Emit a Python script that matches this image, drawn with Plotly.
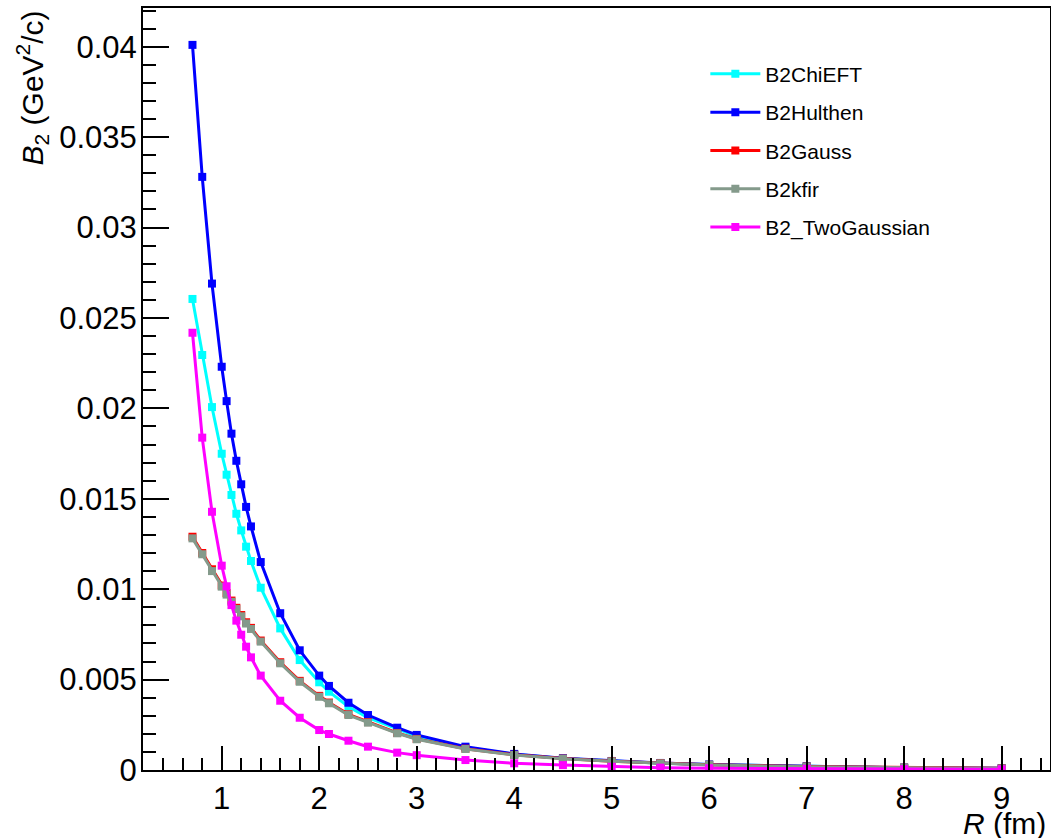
import plotly.graph_objects as go

# ---- data ----
R = [0.7, 0.8, 0.9, 1.0, 1.05, 1.1, 1.15, 1.2, 1.25, 1.3, 1.4, 1.6, 1.8, 2.0, 2.1,
     2.3, 2.5, 2.8, 3.0, 3.5, 4.0, 4.5, 5.0, 5.5, 6.0, 7.0, 8.0, 9.0]

B2ChiEFT = [0.02605, 0.02295, 0.02007, 0.01749, 0.01633, 0.01521, 0.01417, 0.01325,
            0.01235, 0.01156, 0.01008, 0.00783, 0.00608, 0.00485, 0.00433, 0.00350,
            0.00290, 0.00225, 0.00186, 0.00125, 0.00087, 0.00064, 0.00049, 0.00038,
            0.00030, 0.00020, 0.00013, 0.00009]

B2Hulthen = [0.0401, 0.0328, 0.0269, 0.0223, 0.0204, 0.0186, 0.0171, 0.0158,
             0.01455, 0.01347, 0.0115, 0.00867, 0.00662, 0.00522, 0.00465, 0.00372,
             0.00304, 0.00234, 0.00194, 0.00129, 0.00089, 0.00065, 0.00050, 0.00039,
             0.00030, 0.00020, 0.00013, 0.00009]

B2Gauss = [0.0129, 0.0120, 0.0111, 0.0102, 0.00978, 0.00937, 0.00897, 0.00857,
           0.00817, 0.00786, 0.00716, 0.00596, 0.00493, 0.00410, 0.00373, 0.00308,
           0.00265, 0.00205, 0.00172, 0.00118, 0.00084, 0.00063, 0.00049, 0.00038,
           0.00029, 0.00019, 0.00013, 0.00009]

B2kfir = [0.01281, 0.01193, 0.01100, 0.01014, 0.00970, 0.00930, 0.00890, 0.00850,
          0.00810, 0.00780, 0.00710, 0.00590, 0.00488, 0.00405, 0.00369, 0.00304,
          0.00262, 0.00203, 0.00170, 0.00116, 0.00083, 0.00062, 0.00048, 0.00037,
          0.00028, 0.00018, 0.00012, 0.00008]

B2_TwoGaussian = [0.02418, 0.01838, 0.01428, 0.0113, 0.01016, 0.00912, 0.00826, 0.00748,
                  0.00682, 0.00623, 0.00522, 0.00383, 0.00289, 0.00221, 0.00199, 0.00162,
                  0.00129, 0.00096, 0.00082, 0.00055, 0.00037, 0.00027, 0.00018, 0.00013,
                  0.00010, 0.00007, 0.00005, 0.00004]

series_names = ["B2ChiEFT", "B2Hulthen", "B2Gauss", "B2kfir", "B2_TwoGaussian"]
series_values = [B2ChiEFT, B2Hulthen, B2Gauss, B2kfir, B2_TwoGaussian]
series_colors = ["#00FFFF", "#0000FF", "#FF0000", "#849a8b", "#FF00FF"]

x_tickvals = [1, 2, 3, 4, 5, 6, 7, 8, 9]
x_ticktext = ["1", "2", "3", "4", "5", "6", "7", "8", "9"]
y_tickvals = [0, 0.005, 0.01, 0.015, 0.02, 0.025, 0.03, 0.035, 0.04]
y_ticktext = ["0", "0.005", "0.01", "0.015", "0.02", "0.025", "0.03", "0.035", "0.04"]

FONT = "Liberation Sans, Arial, Helvetica, sans-serif"

fig = go.Figure()
for i, (name, vals, col) in enumerate(zip(series_names, series_values, series_colors)):
    fig.add_trace(go.Scatter(
        x=R, y=vals, name=name, mode="lines+markers",
        line=dict(color=col, width=3),
        marker=dict(symbol="square", size=8, color=col, line=dict(width=0)),
        legendgroup=name,
    ))

axis_common = dict(
    showline=True, linecolor="black", linewidth=2, mirror=True,
    ticks="inside", tickcolor="black", tickwidth=1.5,
    showgrid=False, zeroline=False, automargin=False,
    tickfont=dict(family=FONT, size=31, color="black"),
)

fig.update_xaxes(
    range=[0.1925, 9.496], tickmode="array", tickvals=x_tickvals, ticktext=x_ticktext,
    ticklen=24,
    minor=dict(ticks="inside", ticklen=12, tickwidth=1.5, tickcolor="black",
               dtick=0.2, tick0=0, showgrid=False),
    **axis_common,
)
fig.update_yaxes(
    range=[0, 0.04214], tickmode="array", tickvals=y_tickvals, ticktext=y_ticktext,
    ticklen=26, ticklabelstandoff=-2,
    minor=dict(ticks="inside", ticklen=13, tickwidth=1.5, tickcolor="black",
               dtick=0.001, tick0=0, showgrid=False),
    **axis_common,
)

fig.add_annotation(
    text="<i>R</i> (fm)", xref="paper", yref="paper", x=0.9978, y=-0.0696,
    xanchor="right", yanchor="middle", showarrow=False,
    font=dict(family=FONT, size=30, color="black"),
)
fig.add_annotation(
    text="<i>B</i><sub>2</sub> (GeV<sup>2</sup>/c)", xref="paper", yref="paper",
    x=-0.1224, y=1.0, xanchor="center", yanchor="top", textangle=-90,
    showarrow=False, font=dict(family=FONT, size=30, color="black"),
)

fig.update_layout(
    width=1051, height=838,
    margin=dict(l=143, r=1, t=8, b=68, autoexpand=False),
    paper_bgcolor="white", plot_bgcolor="white",
    font=dict(family=FONT, color="black"),
    legend=dict(
        x=0.62, y=0.94, xanchor="left", yanchor="top",
        bgcolor="rgba(0,0,0,0)", borderwidth=0,
        font=dict(family=FONT, size=21, color="black"),
        traceorder="grouped", tracegroupgap=8, itemwidth=50,
    ),
    showlegend=True,
)

fig.write_html(
    "out.html",
    config={"displayModeBar": False},
    post_script="document.body.style.margin='0';document.body.style.padding='0';"
                "document.body.style.overflow='hidden';",
)
